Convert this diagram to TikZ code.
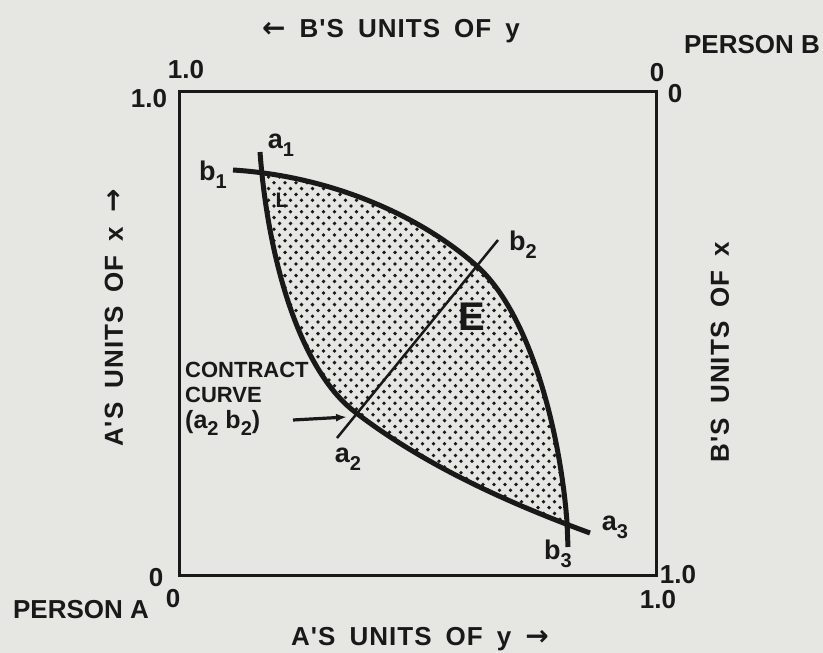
\documentclass[tikz,border=0pt]{standalone}
\usepackage{fontspec}
\setmainfont{Liberation Sans}
\newfontfamily\medfont{Liberation Sans Bold}
\newfontfamily\axisfont[LetterSpace=4,WordSpace=1.7]{Liberation Sans Bold}
\newfontfamily\arrfont{DejaVu Sans Bold}
\usetikzlibrary{arrows.meta}
\definecolor{paper}{RGB}{230,230,227}
\definecolor{ink}{RGB}{25,25,25}
\newcommand{\fs}[1]{\fontsize{#1}{#1}\selectfont}
\newcommand{\lbl}[2]{#1\raisebox{-0.55ex}{\fs{20}#2}}
\tikzset{
  txt/.style={inner sep=0pt, text=ink, font=\medfont\fs{26}},
  axislbl/.style={inner sep=0pt, text=ink, font=\axisfont\fs{26}},
  ptlbl/.style={inner sep=0pt, text=ink, font=\medfont\fs{27}},
  frame/.style={draw=ink, line width=3pt},
  curve/.style={draw=ink, line width=5pt},
  thin/.style={draw=ink, line width=2.5pt},
}
\begin{document}
\begin{tikzpicture}[x=1pt,y=-1pt]
\fill[paper] (0,0) rectangle (823,653);
\useasboundingbox (0,0) rectangle (823,653);

% box
\draw[frame] (179,91) rectangle (656,575);

% key points
\coordinate (a1) at (260,152);
\coordinate (a2) at (355,412);
\coordinate (a3) at (590,533);
\coordinate (b1) at (233,170);
\coordinate (b2) at (478,267);
\coordinate (bx) at (567,522);
\coordinate (b3) at (568,547);
\coordinate (c1) at (337,438);
\coordinate (c2) at (498,240);

% dotted lens
\begin{scope}
  \clip (a1) .. controls (268,260) and (300,370) .. (a2)
        .. controls (420,462) and (500,500) .. (a3)
        -- (700,533) -- (700,100) -- (260,100) -- cycle;
  \clip (b1) .. controls (330,176) and (420,215) .. (b2)
        .. controls (530,315) and (560,430) .. (bx) -- (b3)
        -- (200,547) -- (200,170) -- cycle;
  \foreach \i in {0,...,70} {
    \foreach \j in {0,...,33} {
      \fill[ink] ({230+\j*11+mod(\i,2)*5.5},{148+\i*5.8}) circle (1.9);
    }
  }
\end{scope}

% curves
\draw[curve] (a1) .. controls (268,260) and (300,370) .. (a2)
      .. controls (420,462) and (500,500) .. (a3);
\draw[curve] (b1) .. controls (330,176) and (420,215) .. (b2)
      .. controls (530,315) and (560,430) .. (bx) -- (b3);

% contract curve
\draw[thin] (c1) -- (c2);

% point labels
\node[ptlbl] (la1) at (281,145) {\lbl{a}{1}};
\node[ptlbl] (lb1) at (213,175) {\lbl{b}{1}};
\node[ptlbl] (lb2) at (523,245) {\lbl{b}{2}};
\node[ptlbl] (la2) at (348,459) {\lbl{a}{2}};
\node[ptlbl] (la3) at (615,527) {\lbl{a}{3}};
\node[ptlbl] (lb3) at (558,554) {\lbl{b}{3}};
\node[txt, font=\medfont\fs{21}] (L) at (282,200) {L};
\node[txt, font=\medfont\fs{40}] (E) at (472,317) {E};

% contract curve label
\node[txt, font=\medfont\fs{22}, anchor=west] (ct1) at (185,370) {CONTRACT};
\node[txt, font=\medfont\fs{22}, anchor=west] (ct2) at (185,395) {CURVE};
\node[txt, font=\medfont\fs{25}, anchor=west] (ct3) at (185,423) {(\lbl{a}{2} \lbl{b}{2})};
\coordinate (arrbase) at (293,420);
\coordinate (arrtip) at (347,417);
\draw[ink, line width=3.2pt, -{Latex[length=11pt,width=8pt]}] (arrbase) -- (arrtip);

% axis labels
\node[axislbl] (top) at (391,31) {{\arrfont\fs{28}←} B'S UNITS OF y};
\node[axislbl] (bot) at (420,639) {A'S UNITS OF y {\arrfont\fs{28}→}};
\node[axislbl, rotate=90] (left) at (114,318) {A'S UNITS OF x {\arrfont\fs{28}→}};
\node[axislbl, rotate=90] (right) at (720,352) {B'S UNITS OF x};
\node[txt] (pB) at (752,45) {PERSON B};
\node[txt] (pA) at (81,610) {PERSON A};

% corner numbers
\node[txt] (t10) at (186,70) {1.0};
\node[txt] (l10) at (149,99) {1.0};
\node[txt] (tr0a) at (657,73) {0};
\node[txt] (tr0b) at (675,94) {0};
\node[txt] (bl0a) at (156,578) {0};
\node[txt] (bl0b) at (173,599) {0};
\node[txt] (br10a) at (678,575) {1.0};
\node[txt] (br10b) at (658,600) {1.0};
\end{tikzpicture}
\end{document}
